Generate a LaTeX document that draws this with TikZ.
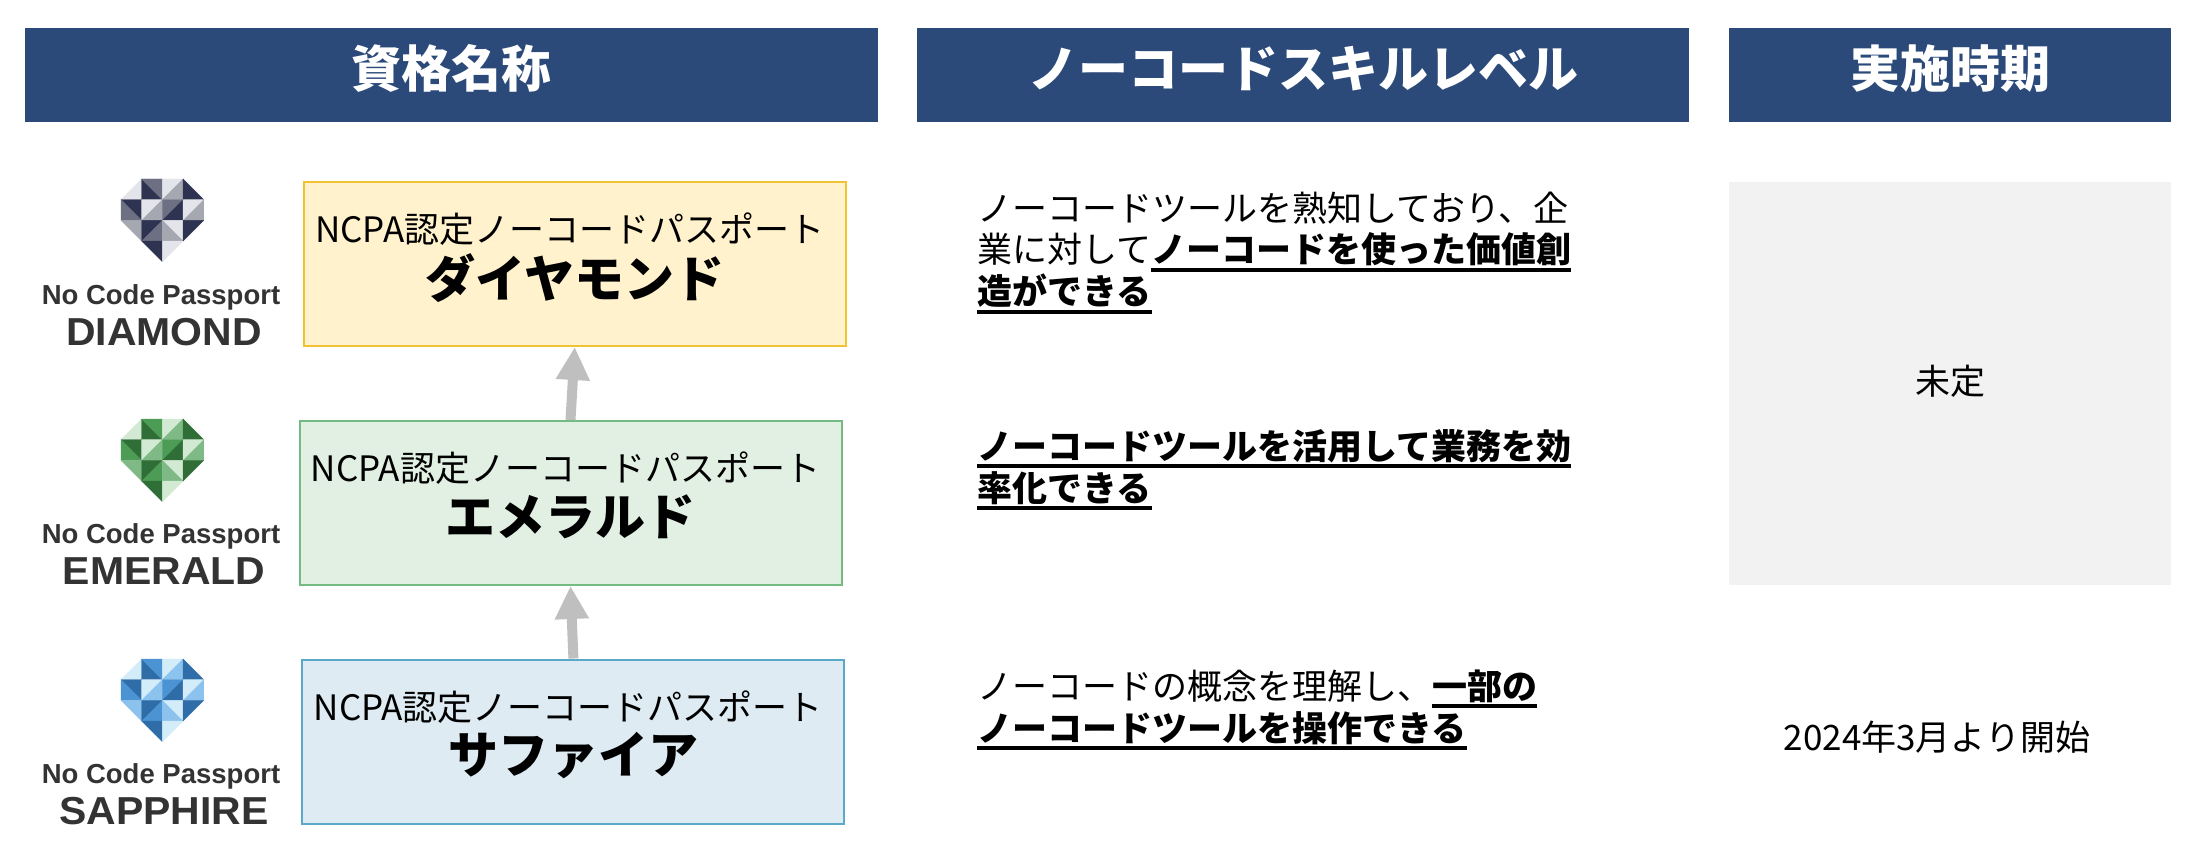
\documentclass[tikz,border=0pt]{standalone}
\usepackage{fontspec}
\usetikzlibrary{arrows.meta}
\newfontfamily\jp{Noto Sans CJK JP}
\newfontfamily\logofont{Liberation Sans}
\newfontfamily\logowide{Liberation Sans}[FakeStretch=1.05]
\definecolor{hdr}{HTML}{2B4A7A}
\definecolor{dfill}{HTML}{FFF2CC}
\definecolor{ddraw}{HTML}{F1C232}
\definecolor{efill}{HTML}{E2F0E4}
\definecolor{edraw}{HTML}{72BB83}
\definecolor{sfill}{HTML}{DEEBF2}
\definecolor{sdraw}{HTML}{5CA8C8}
\definecolor{graybg}{HTML}{F2F2F2}
\definecolor{arrowgray}{HTML}{BFBFBF}
\definecolor{logotext}{HTML}{333333}
% gem colours
\definecolor{dD}{HTML}{2E3352}\definecolor{dM}{HTML}{6D7083}\definecolor{dMM}{HTML}{A5A7B1}\definecolor{dL}{HTML}{E4E5EA}
\definecolor{eD}{HTML}{2F6E37}\definecolor{eM}{HTML}{4C9C55}\definecolor{eMM}{HTML}{7FBA86}\definecolor{eL}{HTML}{D2EAD3}
\definecolor{sD}{HTML}{2F6DA8}\definecolor{sM}{HTML}{4C93D3}\definecolor{sMM}{HTML}{8BC2EE}\definecolor{sL}{HTML}{D3ECFA}
\newcommand\ulx[1]{\setbox0=\hbox{#1}\rlap{\rule[-8.75pt]{\wd0}{3.5pt}}\box0}
\newcommand\gem[5]{%
\begin{scope}[shift={(121pt,-#1pt)}, x=20.7pt, y=-20.7pt, line width=0.3pt, line join=round]
 \filldraw[#5] (1,0)--(1,1)--(0,1)--cycle;
 \filldraw[#2] (1,0)--(1,1)--(2,1)--cycle;
 \filldraw[#3] (1,0)--(2,0)--(2,1)--cycle;
 \filldraw[#5] (2,0)--(3,0)--(2,1)--cycle;
 \filldraw[#4] (3,0)--(3,1)--(2,1)--cycle;
 \filldraw[#2] (3,0)--(4,1)--(3,1)--cycle;
 \filldraw[#2] (0,1)--(1,1)--(1,2)--cycle;
 \filldraw[#3] (0,1)--(0,2)--(1,2)--cycle;
 \filldraw[#5] (1,1)--(2,1)--(1,2)--cycle;
 \filldraw[#4] (2,1)--(2,2)--(1,2)--cycle;
 \filldraw[#3] (2,1)--(3,1)--(2,2)--cycle;
 \filldraw[#2] (3,1)--(3,2)--(2,2)--cycle;
 \filldraw[#5] (3,1)--(4,1)--(3,2)--cycle;
 \filldraw[#4] (4,1)--(4,2)--(3,2)--cycle;
 \filldraw[#4] (0,2)--(1,2)--(1,3)--cycle;
 \filldraw[#2] (1,2)--(2,2)--(1,3)--cycle;
 \filldraw[#3] (2,2)--(2,3)--(1,3)--cycle;
 \filldraw[#5] (2,2)--(3,2)--(3,3)--cycle;
 \filldraw[#4] (2,2)--(2,3)--(3,3)--cycle;
 \filldraw[#2] (3,2)--(4,2)--(3,3)--cycle;
 \filldraw[#2] (1,3)--(2,3)--(2,4)--cycle;
 \filldraw[#5] (2,3)--(3,3)--(2,4)--cycle;
\end{scope}}
\begin{document}
\begin{tikzpicture}[x=1pt,y=-1pt,
  hdrbox/.style={fill=hdr, draw=none, inner sep=0pt, minimum height=94pt, anchor=north west},
  hdrtxt/.style={text=white, font=\jp\bfseries\fontsize{50}{60}\selectfont, inner sep=0pt},
  lvlbox/.style={line width=2pt, inner sep=0pt, minimum height=164pt, minimum width=542pt},
  subtxt/.style={font=\jp\fontsize{35}{42}\selectfont, inner sep=0pt},
  nametxt/.style={font=\jp\bfseries\fontsize{50}{60}\selectfont, inner sep=0pt},
  bodytxt/.style={font=\jp\fontsize{35}{42}\selectfont, inner sep=0pt, anchor=base west},
  plaintxt/.style={font=\jp\fontsize{35}{42}\selectfont, inner sep=0pt},
  logosmall/.style={font=\logofont\bfseries\fontsize{27.5}{32}\selectfont, text=logotext, inner sep=0pt},
  logobig/.style={font=\logowide\bfseries\fontsize{39}{44}\selectfont, text=logotext, inner sep=0pt},
  uparrow/.style={draw=arrowgray, line width=10pt, -{Triangle[length=33pt,width=32pt]}}]
\fill[white] (0,0) rectangle (2194,866);
\useasboundingbox (0,0) rectangle (2194,866);
% headers
\node[hdrbox, minimum width=853pt] (h1) at (25,28) {};
\node[hdrbox, minimum width=772pt] (h2) at (917,28) {};
\node[hdrbox, minimum width=442pt] (h3) at (1729,28) {};
\node[hdrtxt] (h1t) at ([yshift=7pt]h1.center) {資格名称};
\node[hdrtxt] (h2t) at ([yshift=7pt]h2.center) {ノーコードスキルレベル};
\node[hdrtxt] (h3t) at ([yshift=7pt]h3.center) {実施時期};
% gems and logo texts
\gem{179}{dD}{dM}{dMM}{dL}
\gem{419}{eD}{eM}{eMM}{eL}
\gem{659}{sD}{sM}{sMM}{sL}
\node[logosmall] (dl1) at (161,297) {No Code Passport};
\node[logobig] (dl2) at (164,332) {DIAMOND};
\node[logosmall] (el1) at (161,536.5) {No Code Passport};
\node[logobig] (el2) at (164,571.5) {EMERALD};
\node[logosmall] (sl1) at (161,776) {No Code Passport};
\node[logobig] (sl2) at (164,811) {SAPPHIRE};
% level boxes
\node[lvlbox, fill=dfill, draw=ddraw] (diamond) at (574.75,264) {};
\node[lvlbox, fill=efill, draw=edraw] (emerald) at (570.5,503) {};
\node[lvlbox, fill=sfill, draw=sdraw] (sapphire) at (573.4,741.5) {};
\node[subtxt] (d1) at ([xshift=-5pt,yshift=34.5pt]diamond.center) {NCPA認定ノーコードパスポート};
\node[nametxt] (d2) at ([yshift=-14pt]diamond.center) {ダイヤモンド};
\node[subtxt] (e1) at ([xshift=-5pt,yshift=34.5pt]emerald.center) {NCPA認定ノーコードパスポート};
\node[nametxt] (e2) at ([yshift=-14pt]emerald.center) {エメラルド};
\node[subtxt] (s1) at ([xshift=-5pt,yshift=34.5pt]sapphire.center) {NCPA認定ノーコードパスポート};
\node[nametxt] (s2) at ([yshift=-14pt]sapphire.center) {サファイア};
% arrows
\draw[uparrow] (emerald.north) -- (diamond.south);
\draw[uparrow] (sapphire.north) -- (emerald.south);
% skill texts
\node[bodytxt] (t11) at (977,222) {ノーコードツールを熟知しており、企};
\node[bodytxt] (t12) at (977,263) {業に対して\ulx{\bfseries ノーコードを使った価値創}};
\node[bodytxt] (t13) at (977,305) {\ulx{\bfseries 造ができる}};
\node[bodytxt] (t21) at (977,459) {\ulx{\bfseries ノーコードツールを活用して業務を効}};
\node[bodytxt] (t22) at (977,501) {\ulx{\bfseries 率化できる}};
\node[bodytxt] (t31) at (977,699) {ノーコードの概念を理解し、\ulx{\bfseries 一部の}};
\node[bodytxt] (t32) at (977,741) {\ulx{\bfseries ノーコードツールを操作できる}};
% period column
\node[fill=graybg, draw=none, inner sep=0pt, minimum width=442pt, minimum height=403pt, anchor=north west] (tbd) at (1729,182) {};
\node[plaintxt] (tbdt) at (1950,381) {未定};
\node[plaintxt] (start) at (1937,737) {2024年3月より開始};
\end{tikzpicture}
\end{document}
